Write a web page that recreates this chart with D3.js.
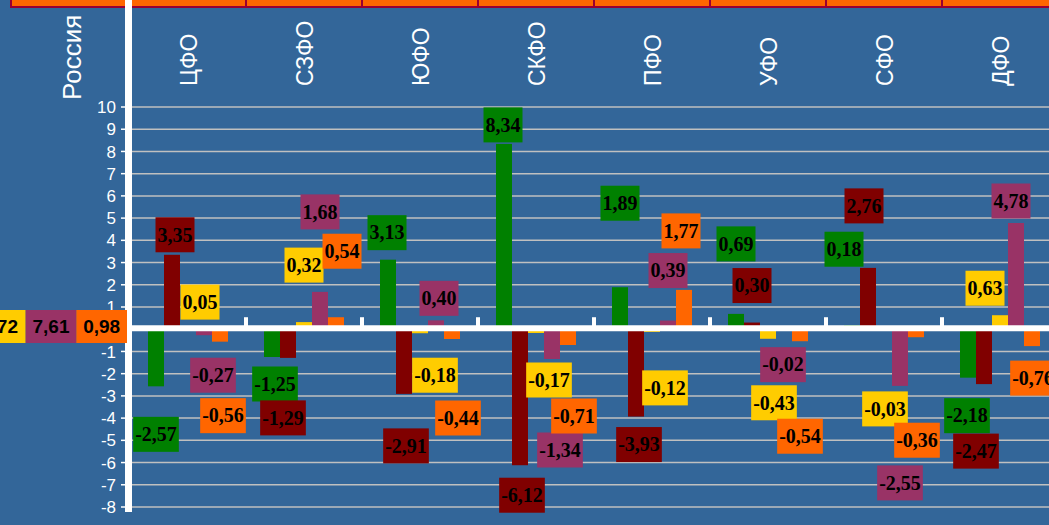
<!DOCTYPE html>
<html>
<head>
<meta charset="utf-8">
<script src="https://cdn.jsdelivr.net/npm/d3@7"></script>
<style>
body { margin: 0; background: #336699; }
svg { display: block; }
</style>
</head>
<body>
<div id="chart_div"></div>
<script>
// data
var regions = ["ЦФО", "СЗФО", "ЮФО", "СКФО", "ПФО", "УФО", "СФО", "ДФО"];
var seriesGreen  = [-2.57, -1.25, 3.13, 8.34, 1.89, 0.69, 0.18, -2.18];
var seriesMaroon = [3.35, -1.29, -2.91, -6.12, -3.93, 0.30, 2.76, -2.47];
var seriesYellow = [0.05, 0.32, -0.18, -0.17, -0.12, -0.43, -0.03, 0.63];
var seriesPlum   = [-0.27, 1.68, 0.40, -1.34, 0.39, -0.02, -2.55, 4.78];
var seriesOrange = [-0.56, 0.54, -0.44, -0.71, 1.77, -0.54, -0.36, -0.76];
var yTicks = d3.range(-8, 11);
var russiaTitle = "Россия";
var russiaLabels = ["72", "7,61", "0,98"]; // left one is cut off in the picture

// layout / style (not data)
var width = 1049, height = 525;
var colors = ["#008000", "#800000", "#FFCC00", "#993366", "#FF6600"];
var seriesKeys = ["g", "m", "y", "p", "o"];
var allSeries = [seriesGreen, seriesMaroon, seriesYellow, seriesPlum, seriesOrange];
// label box centre = (bar centre + dx, bar end + dy), hand placed like in the original
var labelNudge = [
  [[0, 48], [3, -20], [12, -26], [9, 40], [3, 74]],
  [[3, 27], [-5, 60], [0, -57], [0, -80], [6, -66]],
  [[-1, -27], [2, 52], [15, 42], [3, -22], [6, 79]],
  [[-1, -19], [2, 30], [13, 47], [8, 91], [6, 71]],
  [[0, -84], [3, 28], [13, 56], [0, -50], [-3, -59]],
  [[0, -70], [0, -37], [6, 64], [-1, 35], [0, 95]],
  [[-8, -76], [-4, -62], [1, 79], [0, 97], [1, 103]],
  [[-1, 38], [-8, 67], [-15, -27], [-5, -22], [1, 32]]
];

var x = d3.scaleBand().domain(regions).range([130, 1058]);
var xs = d3.scaleBand().domain(seriesKeys).range([18, 98]);
var y = d3.scaleLinear().domain([-8, 10]).range([507, 107]);
var ruLocale = d3.formatLocale({ decimal: ",", thousands: " ", grouping: [3], currency: ["", ""], minus: "-" });
var fmt = ruLocale.format(".2f");

var svg = d3.select("#chart_div").append("svg")
  .attr("width", width)
  .attr("height", height);

svg.append("rect").attr("width", width).attr("height", height).attr("fill", "#336699");

// orange strip on top (bottom of a table above the chart)
var cellEdges = [11].concat(regions.slice(1).map(function(r) { return x(r); })).concat([width + 2]);
svg.append("rect")
  .attr("x", 11).attr("y", -2)
  .attr("width", width).attr("height", 9)
  .attr("fill", "#FF6600")
  .attr("stroke", "#990033").attr("stroke-width", 2);
svg.selectAll(".cellsep")
  .data(cellEdges.slice(1, -1))
  .enter().append("line")
  .attr("class", "cellsep")
  .attr("x1", function(d) { return d; }).attr("x2", function(d) { return d; })
  .attr("y1", 0).attr("y2", 7)
  .attr("stroke", "#990033").attr("stroke-width", 2);

// gridlines
svg.selectAll(".grid")
  .data(yTicks.filter(function(d) { return d !== 0; }))
  .enter().append("line")
  .attr("class", "grid")
  .attr("x1", 130).attr("x2", width)
  .attr("y1", function(d) { return y(d); }).attr("y2", function(d) { return y(d); })
  .attr("stroke", "#C0C0C0").attr("stroke-width", 1.5);

// bars
var groups = svg.selectAll(".region")
  .data(regions)
  .enter().append("g")
  .attr("class", "region")
  .attr("transform", function(d) { return "translate(" + x(d) + ",0)"; });

groups.selectAll("rect")
  .data(function(d, i) {
    return allSeries.map(function(s, j) { return { key: seriesKeys[j], v: s[i], c: colors[j] }; });
  })
  .enter().append("rect")
  .attr("x", function(d) { return xs(d.key); })
  .attr("width", xs.bandwidth())
  .attr("y", function(d) { return y(Math.max(0, d.v)); })
  .attr("height", function(d) { return Math.abs(y(d.v) - y(0)); })
  .attr("fill", function(d) { return d.c; });

// zero line + category ticks
svg.append("line")
  .attr("x1", 131).attr("x2", width)
  .attr("y1", y(0) - 1).attr("y2", y(0) - 1)
  .attr("stroke", "#fff").attr("stroke-width", 6);

svg.selectAll(".xtick")
  .data(regions.slice(1))
  .enter().append("rect")
  .attr("class", "xtick")
  .attr("x", function(d) { return x(d) - 2; })
  .attr("y", y(0) - 12)
  .attr("width", 4).attr("height", 12)
  .attr("fill", "#fff");

// y axis
svg.append("line")
  .attr("x1", 128.5).attr("x2", 128.5)
  .attr("y1", 0).attr("y2", 512)
  .attr("stroke", "#fff").attr("stroke-width", 7);

svg.selectAll(".ytick")
  .data(yTicks)
  .enter().append("line")
  .attr("class", "ytick")
  .attr("x1", 121).attr("x2", 125)
  .attr("y1", function(d) { return y(d); }).attr("y2", function(d) { return y(d); })
  .attr("stroke", "#fff").attr("stroke-width", 1.5);

svg.selectAll(".ylabel")
  .data(yTicks)
  .enter().append("text")
  .attr("class", "ylabel")
  .attr("x", 116)
  .attr("y", function(d) { return y(d); })
  .attr("dy", "0.36em")
  .attr("text-anchor", "end")
  .style("font-family", "'Liberation Sans', Arial, sans-serif")
  .style("font-size", "17px")
  .attr("fill", "#fff")
  .text(function(d) { return d; });

// value labels
var labelData = [];
regions.forEach(function(r, i) {
  allSeries.forEach(function(s, j) {
    var v = s[i];
    labelData.push({
      cx: x(r) + xs(seriesKeys[j]) + xs.bandwidth() / 2 + labelNudge[i][j][0],
      cy: y(v) + labelNudge[i][j][1],
      v: v, c: colors[j]
    });
  });
});

var lab = svg.selectAll(".vlabel")
  .data(labelData)
  .enter().append("g")
  .attr("class", "vlabel")
  .attr("transform", function(d) { return "translate(" + d.cx + "," + d.cy + ")"; });

var boxRect = lab.append("rect").attr("fill", function(d) { return d.c; });
lab.append("text")
  .attr("text-anchor", "middle")
  .attr("dy", "0.34em")
  .style("font-family", "'Liberation Serif', 'Times New Roman', serif")
  .style("font-weight", "bold")
  .style("font-size", "20px")
  .attr("fill", "#000")
  .text(function(d) { return fmt(d.v); })
  .each(function(d) { d.w = this.getComputedTextLength() + 4; });
boxRect
  .attr("x", function(d) { return -d.w / 2; })
  .attr("y", -17.5)
  .attr("width", function(d) { return d.w; })
  .attr("height", 35);

// Russia column, cut off to the left of the axis
var xr = d3.scaleBand().domain(russiaLabels).range([-25, 127]);
var rus = svg.selectAll(".rus")
  .data(russiaLabels)
  .enter().append("g")
  .attr("class", "rus")
  .attr("transform", function(d) { return "translate(" + xr(d) + ",310)"; });
rus.append("rect")
  .attr("width", xr.bandwidth()).attr("height", 33)
  .attr("fill", function(d, i) { return colors[i + 2]; });
rus.append("text")
  .attr("x", function(d, i) { return i === 0 ? 43 : xr.bandwidth() / 2; })
  .attr("y", 23)
  .attr("text-anchor", function(d, i) { return i === 0 ? "end" : "middle"; })
  .style("font-family", "'Liberation Sans', Arial, sans-serif")
  .style("font-weight", "bold")
  .style("font-size", "19px")
  .attr("fill", "#000")
  .text(function(d) { return d; });

// category names, rotated
svg.selectAll(".cat")
  .data(regions)
  .enter().append("text")
  .attr("class", "cat")
  .attr("transform", function(d) { return "translate(" + (x(d) + x.bandwidth() / 2 + 9) + ",86) rotate(-90)"; })
  .style("font-family", "'Liberation Sans', Arial, sans-serif")
  .style("font-size", "23px")
  .attr("fill", "#fff")
  .text(function(d) { return d; });

svg.append("text")
  .attr("transform", "translate(81,100) rotate(-90)")
  .style("font-family", "'Liberation Sans', Arial, sans-serif")
  .style("font-size", "26px")
  .attr("fill", "#fff")
  .text(russiaTitle);
</script>
</body>
</html>
